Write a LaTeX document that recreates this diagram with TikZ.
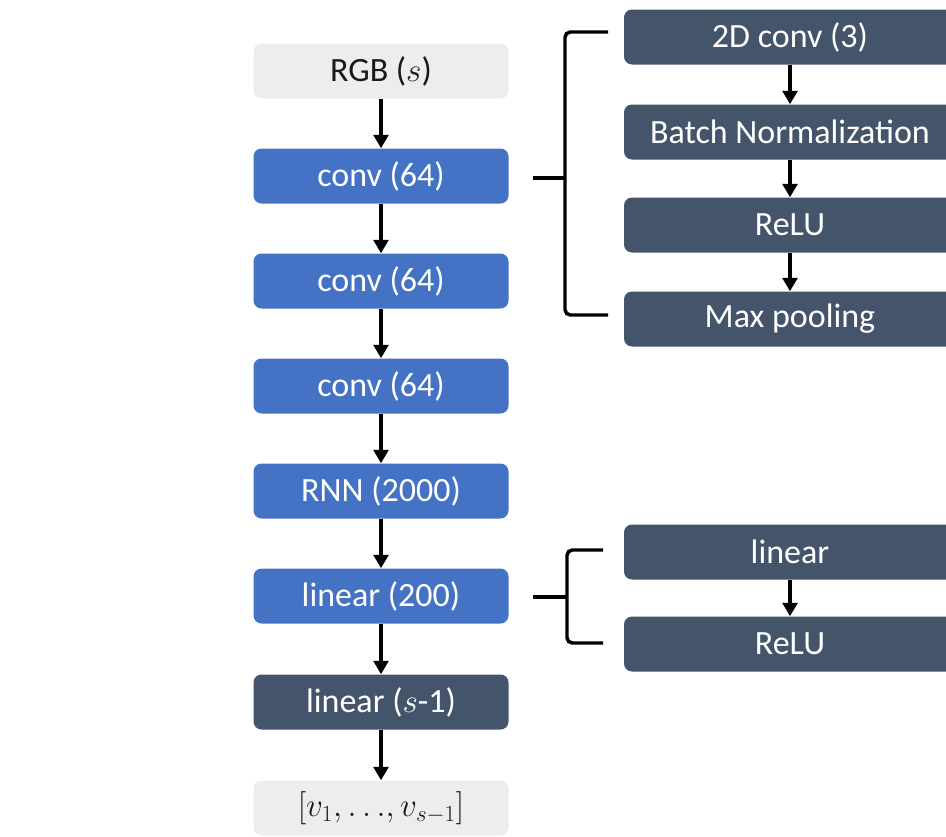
\documentclass[tikz,border=0pt]{standalone}
\usepackage{fontspec}
\setmainfont{Carlito}
\usetikzlibrary{arrows.meta}
\definecolor{cblue}{HTML}{4472C4}
\definecolor{cdark}{HTML}{44546A}
\definecolor{cgrey}{HTML}{EDEDED}
\begin{document}
\begin{tikzpicture}[x=0.75pt,y=-0.75pt,
  box/.style={rectangle,rounded corners=6pt,minimum width=191.25pt,minimum height=41.25pt,inner sep=0pt,font=\fontsize{25.5}{30}\selectfont},
  bluebox/.style={box,fill=cblue,text=white},
  darkbox/.style={box,fill=cdark,text=white},
  greybox/.style={box,fill=cgrey,text=black!90},
  sidebox/.style={darkbox,minimum width=249pt},
  arr/.style={line width=2.6pt,-{Triangle[width=11pt,length=10pt]}},
  brk/.style={line width=2.6pt,rounded corners=4pt}]
\useasboundingbox (0,0) rectangle (946,836);
% main column
\node[greybox] (rgb) at (381,71) {RGB ($s$)};
\node[bluebox] (c1) at (381,176) {conv (64)};
\node[bluebox] (c2) at (381,281) {conv (64)};
\node[bluebox] (c3) at (381,386) {conv (64)};
\node[bluebox] (rnn) at (381,491) {RNN (2000)};
\node[bluebox] (lin) at (381,596) {linear (200)};
\node[darkbox] (lout) at (381,702) {linear ($s$-1)};
\node[greybox] (out) at (381,808) {$[v_1,{\ldots},v_{s-1}]$};
\draw[arr] (rgb) -- (c1);
\draw[arr] (c1) -- (c2);
\draw[arr] (c2) -- (c3);
\draw[arr] (c3) -- (rnn);
\draw[arr] (rnn) -- (lin);
\draw[arr] (lin) -- (lout);
\draw[arr] (lout) -- (out);
% conv detail
\node[sidebox] (d1) at (790,37) {2D conv (3)};
\node[sidebox] (d2) at (790,132) {Batch Normalization};
\node[sidebox] (d3) at (790,225) {ReLU};
\node[sidebox] (d4) at (790,319) {Max pooling};
\draw[arr] (d1) -- (d2);
\draw[arr] (d2) -- (d3);
\draw[arr] (d3) -- (d4);
\coordinate (b1t) at (608,32);
\coordinate (b1b) at (608,315);
\coordinate (b1m) at (533,178);
\draw[brk] (b1t) -- (565,32) -- (565,315) -- (b1b);
\draw[line width=2.6pt] (b1m) -- (565,178);
% linear detail
\node[sidebox] (e1) at (790,552) {linear};
\node[sidebox] (e2) at (790,644) {ReLU};
\draw[arr] (e1) -- (e2);
\coordinate (b2t) at (603,550);
\coordinate (b2b) at (603,643);
\coordinate (b2m) at (533,597);
\draw[brk] (b2t) -- (567,550) -- (567,643) -- (b2b);
\draw[line width=2.6pt] (b2m) -- (567,597);
\end{tikzpicture}
\end{document}
